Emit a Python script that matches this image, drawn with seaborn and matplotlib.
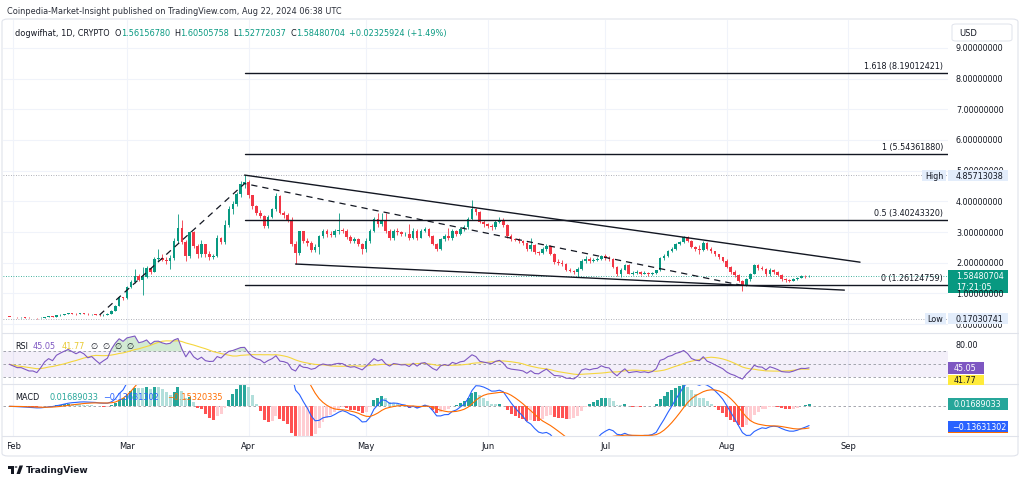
import numpy as np
import pandas as pd
import seaborn as sns
import matplotlib.pyplot as plt
import matplotlib.dates as mdates
import matplotlib.transforms as mtransforms
from matplotlib.patches import Rectangle, FancyBboxPatch, Polygon, Circle
from matplotlib.lines import Line2D

# ---- daily candles, Jan 31 -> Aug 22 2024 ----
first_open = 0.25
close_jan = [0.24]
close_feb = [0.23, 0.22, 0.22, 0.21, 0.20, 0.20, 0.19, 0.21, 0.24, 0.26,
             0.25, 0.29, 0.31, 0.33, 0.35, 0.34, 0.33, 0.35, 0.34, 0.32,
             0.33, 0.31, 0.29, 0.31, 0.33, 0.44, 0.60, 0.87, 0.84]
close_mar = [1.20, 1.36, 1.58, 1.44, 1.55, 1.82, 1.71, 2.12, 2.15, 2.10,
             2.07, 2.15, 2.72, 3.12, 2.67, 2.21, 2.99, 2.54, 2.29, 2.60,
             2.28, 2.20, 2.22, 2.80, 2.67, 3.23, 3.75, 3.92, 4.24, 4.57, 4.62]
close_apr = [4.20, 3.84, 3.62, 3.52, 3.20, 3.50, 3.74, 4.18, 3.62, 3.56,
             3.40, 2.62, 2.32, 3.02, 2.72, 2.66, 2.42, 2.52, 2.86, 3.03,
             2.93, 2.90, 3.02, 3.08, 3.05, 2.83, 2.72, 2.76, 2.62, 2.46]
close_may = [2.72, 3.05, 3.43, 3.25, 3.40, 3.02, 2.82, 3.05, 3.00, 2.93,
             2.95, 2.80, 3.05, 2.82, 3.05, 3.10, 2.88, 2.62, 2.45, 2.78,
             2.88, 2.80, 3.05, 2.95, 3.10, 3.15, 3.43, 3.75, 3.64, 3.32, 3.26]
close_jun = [3.20, 3.15, 3.32, 3.40, 3.22, 2.88, 2.78, 2.74, 2.70, 2.64,
             2.45, 2.58, 2.35, 2.32, 2.44, 2.55, 2.30, 2.02, 2.00, 1.95,
             1.76, 1.74, 1.69, 1.80, 2.06, 2.12, 2.05, 2.10, 2.12, 2.23]
close_jul = [2.15, 2.12, 1.85, 1.62, 1.78, 1.92, 1.65, 1.68, 1.70, 1.65,
             1.67, 1.62, 1.66, 1.76, 2.15, 2.22, 2.38, 2.45, 2.60, 2.68,
             2.83, 2.72, 2.52, 2.45, 2.42, 2.66, 2.46, 2.38, 2.28, 2.18, 2.06]
close_aug = [1.85, 1.70, 1.60, 1.42, 1.27, 1.47, 1.64, 1.92, 1.82, 1.80,
             1.62, 1.78, 1.70, 1.60, 1.46, 1.43, 1.42, 1.46, 1.52, 1.57,
             1.5616, 1.5848]

high_jan = [0.25]
high_feb = [0.24, 0.24, 0.23, 0.22, 0.22, 0.21, 0.21, 0.22, 0.25, 0.27,
            0.27, 0.30, 0.32, 0.34, 0.37, 0.36, 0.35, 0.36, 0.36, 0.35,
            0.34, 0.34, 0.32, 0.32, 0.35, 0.46, 0.63, 0.92, 0.90]
high_mar = [1.25, 1.45, 1.80, 1.62, 1.85, 1.90, 1.86, 2.20, 2.45, 2.30,
            2.20, 2.25, 2.80, 3.60, 3.40, 2.75, 3.05, 3.02, 2.60, 2.75,
            2.62, 2.40, 2.30, 2.90, 2.85, 3.40, 3.85, 4.00, 4.30, 4.65, 4.857]
high_apr = [4.70, 4.22, 3.88, 3.72, 3.55, 3.55, 3.80, 4.28, 4.20, 3.70,
            3.62, 3.48, 2.70, 3.05, 3.05, 2.80, 2.70, 2.60, 2.90, 3.10,
            3.10, 3.02, 3.10, 3.62, 3.12, 3.10, 2.90, 2.85, 2.80, 2.65]
high_may = [2.80, 3.10, 3.48, 3.62, 3.62, 3.62, 3.10, 3.10, 3.12, 3.02,
            3.00, 3.25, 3.12, 3.10, 3.10, 3.18, 3.12, 2.92, 2.65, 2.82,
            2.95, 3.12, 3.10, 3.08, 3.15, 3.22, 3.48, 4.05, 3.80, 3.68, 3.40]
high_jun = [3.30, 3.25, 3.40, 3.48, 3.45, 3.25, 2.95, 2.82, 2.80, 2.75,
            2.68, 2.80, 2.62, 2.40, 2.50, 2.62, 2.58, 2.32, 2.12, 2.10,
            2.00, 1.82, 1.78, 1.85, 2.12, 2.22, 2.18, 2.15, 2.20, 2.26]
high_jul = [2.30, 2.22, 2.15, 1.90, 1.82, 1.95, 1.95, 1.72, 1.75, 1.73,
            1.72, 1.70, 1.70, 1.78, 2.18, 2.30, 2.42, 2.50, 2.65, 2.72,
            2.88, 2.86, 2.75, 2.55, 2.58, 2.70, 2.68, 2.50, 2.40, 2.30, 2.20]
high_aug = [2.12, 1.90, 1.75, 1.65, 1.45, 1.52, 1.68, 1.95, 1.96, 1.88,
            1.84, 1.82, 1.80, 1.74, 1.62, 1.50, 1.48, 1.50, 1.55, 1.60,
            1.60, 1.6051]

low_jan = [0.23]
low_feb = [0.22, 0.21, 0.21, 0.20, 0.19, 0.19, 0.1703, 0.19, 0.21, 0.24,
           0.24, 0.25, 0.28, 0.30, 0.32, 0.32, 0.31, 0.32, 0.32, 0.31,
           0.31, 0.30, 0.28, 0.28, 0.30, 0.32, 0.43, 0.59, 0.78]
low_mar = [0.82, 1.18, 1.33, 1.40, 0.95, 1.50, 1.65, 1.70, 2.05, 2.05,
           1.95, 1.80, 2.10, 2.65, 2.62, 2.05, 2.15, 2.48, 2.15, 2.20,
           2.20, 2.10, 2.12, 2.20, 2.60, 2.62, 3.15, 3.60, 3.85, 4.15, 4.45]
low_apr = [4.10, 3.75, 3.55, 3.45, 3.12, 3.12, 3.45, 3.70, 3.58, 3.45,
           3.32, 2.55, 1.96, 2.25, 2.65, 2.55, 2.35, 2.35, 2.30, 2.80,
           2.85, 2.85, 2.85, 2.95, 2.98, 2.78, 2.65, 2.65, 2.55, 2.30]
low_may = [2.35, 2.65, 3.00, 3.18, 3.20, 2.98, 2.75, 2.75, 2.92, 2.88,
           2.88, 2.75, 2.78, 2.75, 2.80, 3.00, 2.85, 2.58, 2.40, 2.42,
           2.72, 2.75, 2.75, 2.88, 2.90, 3.05, 3.10, 3.38, 3.55, 3.28, 3.15]
low_jun = [3.12, 3.08, 3.10, 3.28, 3.18, 2.82, 2.72, 2.70, 2.65, 2.58,
           2.40, 2.40, 2.30, 2.25, 2.28, 2.40, 2.25, 1.95, 1.92, 1.90,
           1.72, 1.70, 1.65, 1.53, 1.76, 2.00, 2.00, 2.02, 2.05, 2.08]
low_jul = [2.08, 2.05, 1.82, 1.58, 1.53, 1.75, 1.62, 1.60, 1.64, 1.60,
           1.62, 1.58, 1.60, 1.64, 1.74, 2.10, 2.18, 2.35, 2.42, 2.58,
           2.65, 2.68, 2.48, 2.38, 2.28, 2.40, 2.42, 2.32, 2.22, 2.12, 2.02]
low_aug = [1.82, 1.65, 1.55, 1.38, 1.09, 1.25, 1.42, 1.62, 1.78, 1.76,
           1.58, 1.58, 1.65, 1.56, 1.42, 1.38, 1.39, 1.40, 1.44, 1.50,
           1.52, 1.5277]

# drawings
fib_leg_dates = ["2024-02-23", "2024-03-31", "2024-08-05"]
fib_leg_prices = [0.30, 4.58, 1.26124759]
fib_start = "2024-03-31"
fib_ratios = ["1.618", "1", "0.5", "0"]
fib_prices = [8.19012421, 5.54361880, 3.40243320, 1.26124759]
upper_dates = ["2024-03-31", "2024-09-04"]
upper_prices = [4.857, 2.02]
lower_dates = ["2024-04-13", "2024-08-31"]
lower_prices = [1.96, 1.11]

price_high = 4.85713038
price_low = 0.17030741
last_close = 1.58480704
countdown = "17:21:05"
rsi_last, rsi_ma_last = 45.05, 41.77
hist_last, macd_last, signal_last = 0.01689033, -0.13631302, -0.15320335
price_ticks = [0, 1, 2, 3, 4, 5, 6, 7, 8, 9]
month_starts = ["2024-02-01", "2024-03-01", "2024-04-01", "2024-05-01",
                "2024-06-01", "2024-07-01", "2024-08-01", "2024-09-01"]
month_labels = ["Feb", "Mar", "Apr", "May", "Jun", "Jul", "Aug", "Sep"]

close = np.array(close_jan + close_feb + close_mar + close_apr + close_may + close_jun + close_jul + close_aug)
high = np.array(high_jan + high_feb + high_mar + high_apr + high_may + high_jun + high_jul + high_aug)
low = np.array(low_jan + low_feb + low_mar + low_apr + low_may + low_jun + low_jul + low_aug)
dates = pd.date_range("2024-01-31", periods=len(close), freq="D")
opn = np.concatenate([[first_open], close[:-1]])
high = np.maximum(high, np.maximum(opn, close))
low = np.minimum(low, np.minimum(opn, close))

# ---- indicators ----
delta = np.diff(close, prepend=close[0])
gain, loss = np.clip(delta, 0, None), np.clip(-delta, 0, None)
ag = al = np.abs(delta[1:15]).mean() / 2
rsi = []
for g, l in zip(gain, loss):
    ag = (ag * 13 + g) / 14
    al = (al * 13 + l) / 14
    rsi.append(100 - 100 / (1 + ag / al))
rsi = pd.Series(rsi, index=dates)
rsi_ma = rsi.rolling(14, min_periods=1).mean()

s = pd.Series(close, index=dates)
macd = s.ewm(span=12, adjust=False).mean() - s.ewm(span=26, adjust=False).mean()
signal = macd.ewm(span=9, adjust=False).mean()
hist = macd - signal
prev = hist.shift(1).fillna(0)
hist_col = np.where(hist >= 0, np.where(hist >= prev, "#26A69A", "#B2DFDB"),
                    np.where(hist < prev, "#FF5252", "#FFCDD2"))

# ---- figure ----
sns.set_theme(style="white")
plt.rcParams["font.family"] = ["DejaVu Sans"]
W, H = 1024, 485
fig = plt.figure(figsize=(W / 100, H / 100), dpi=100, facecolor="white")
DARK = "#131722"
UP, DOWN = "#089981", "#F23645"
GRID = "#f0f3fa"


def fx(px):
    return px / W


def fy(py):
    return 1 - py / H


def ypx(ax, v):
    return H - ax.transData.transform((0, v))[1]


def box(x0, y0, x1, y1, color, z=6):
    fig.add_artist(Rectangle((fx(x0), fy(y1)), (x1 - x0) / W, (y1 - y0) / H,
                             transform=fig.transFigure, facecolor=color,
                             edgecolor="none", zorder=z))


def label(x, y, txt, color=DARK, size=5.8, ha="left", weight="normal", z=7):
    return fig.text(fx(x), fy(y), txt, color=color, fontsize=size, ha=ha,
                    va="center", weight=weight, zorder=z)


def seq(x, y, parts, size=5.9):
    r = fig.canvas.get_renderer()
    for txt, col, gap in parts:
        t = label(x, y, txt, col, size)
        x += t.get_window_extent(r).width + gap


def clip_rows(t, top_px, bottom_px):
    # keep only the rows of a text between two heights (px from top)
    t.set_clip_box(mtransforms.Bbox.from_extents(0, H - bottom_px, W, H - top_px))
    t.set_clip_on(True)


x_left, x_right = 3, 948
mar1 = mdates.date2num(pd.Timestamp("2024-03-01"))
xlim = (mar1 - (127 - x_left) / 3.92, mar1 + (x_right - 127) / 3.92)

ax_p = fig.add_axes([fx(x_left), (H - 334) / H, (x_right - x_left) / W, 313 / H])
ax_r = fig.add_axes([fx(x_left), (H - 385) / H, (x_right - x_left) / W, 51 / H])
ax_m = fig.add_axes([fx(x_left), (H - 437) / H, (x_right - x_left) / W, 52 / H])

months = pd.to_datetime(month_starts)
for ax in (ax_p, ax_r, ax_m):
    ax.set_facecolor("none")
    for sp in ax.spines.values():
        sp.set_visible(False)
    for m in months:
        ax.axvline(m, color=GRID, lw=0.8, zorder=0)

# price pane
for v in price_ticks:
    ax_p.axhline(v, color=GRID, lw=0.8, zorder=0)
col = np.where(close >= opn, UP, DOWN)
ax_p.vlines(dates, low, high, colors=col, lw=0.6, zorder=3)
ax_p.bar(dates, np.maximum(np.abs(close - opn), 0.012), bottom=np.minimum(opn, close),
         width=0.68, color=col, linewidth=0, zorder=4)

ax_p.axhline(price_high, color="#9598a1", lw=0.6, ls=(0, (1, 2)), zorder=2)
ax_p.axhline(price_low, color="#9598a1", lw=0.6, ls=(0, (1, 2)), zorder=2)
ax_p.axhline(last_close, color=UP, lw=0.6, ls=(0, (1, 2)), zorder=2)

end = mdates.num2date(xlim[1]).replace(tzinfo=None)
for p in fib_prices:
    ax_p.plot([pd.Timestamp(fib_start), end], [p, p], color=DARK, lw=1.0, zorder=5)
ax_p.plot(pd.to_datetime(fib_leg_dates), fib_leg_prices, color=DARK, lw=0.9,
          dashes=(5, 4), zorder=5)
ax_p.plot(pd.to_datetime(upper_dates), upper_prices, color=DARK, lw=1.0, zorder=5)
ax_p.plot(pd.to_datetime(lower_dates), lower_prices, color=DARK, lw=1.0, zorder=5)
ax_p.set_xlim(xlim)
ax_p.set_ylim(-0.287, 9.909)
ax_p.set_xticks([]); ax_p.set_yticks([])

# RSI pane
ax_r.axhspan(30, 70, color="#7E57C2", alpha=0.09, lw=0, zorder=0)
for v in (70, 50, 30):
    ax_r.axhline(v, color="#9598a1", lw=0.6, dashes=(3, 3), zorder=1)
ax_r.fill_between(dates, rsi.values, 70, where=rsi.values > 70, interpolate=True,
                  color="#4caf50", alpha=0.25, lw=0, zorder=2)
sns.lineplot(x=dates, y=rsi_ma.values, ax=ax_r, color="#F5D63D", lw=0.8, zorder=3)
sns.lineplot(x=dates, y=rsi.values, ax=ax_r, color="#7E57C2", lw=0.8, zorder=4)
ax_r.set_xlim(xlim)
ax_r.set_ylim(19.7, 98.15)
ax_r.set_xticks([]); ax_r.set_yticks([])
ax_r.set_xlabel(""); ax_r.set_ylabel("")

# MACD pane
ax_m.axhline(0, color="#9598a1", lw=0.6, dashes=(3, 3), zorder=1)
ax_m.bar(dates, hist.values, width=0.75, color=hist_col, linewidth=0, zorder=2)
sns.lineplot(x=dates, y=macd.values, ax=ax_m, color="#2962FF", lw=0.8, zorder=3)
sns.lineplot(x=dates, y=signal.values, ax=ax_m, color="#FF6D00", lw=0.8, zorder=3)
ax_m.set_xlim(xlim)
ax_m.set_ylim(-0.198, 0.149)
ax_m.set_yticks([])
ax_m.set_xlabel(""); ax_m.set_ylabel("")
ax_m.set_xticks([])
tr = mtransforms.blended_transform_factory(ax_m.transData, ax_m.transAxes)
for m, lab in zip(months, month_labels):
    t = ax_m.text(m, -0.19, lab, transform=tr, ha="center", va="center",
                  fontsize=6, color=DARK, clip_on=False)
    t.set_clip_box(mtransforms.Bbox.from_extents(8, 0, W, H))
    t.set_clip_on(True)

# frame and separators
fig.add_artist(FancyBboxPatch((fx(2), fy(457)), fx(1016), (457 - 20) / H,
                              boxstyle="round,pad=0,rounding_size=0.006",
                              transform=fig.transFigure, fill=False,
                              edgecolor="#e0e3eb", lw=0.8))
for yy in (334, 385, 437):
    fig.add_artist(Line2D([fx(2), fx(1018)], [fy(yy), fy(yy)], color="#e0e3eb",
                          lw=0.8, transform=fig.transFigure))

# price scale
LB = "#e3edfb"
yh = ypx(ax_p, price_high)
yl = ypx(ax_p, price_low)
for v in price_ticks:
    yv = ypx(ax_p, v)
    t = label(956, yv, f"{v:.8f}")
    if abs(yv - yh) < 6:
        clip_rows(t, 0, yh - 5.5)      # mostly hidden behind the High tag
    if abs(yv - yl) < 6:
        clip_rows(t, yl + 5.5, H)      # mostly hidden behind the Low tag
for ratio, p in zip(fib_ratios, fib_prices):
    label(943, ypx(ax_p, p) - 7.5, f"{ratio} ({p:.8f})", ha="right")

box(922, yh - 5.5, 946, yh + 5.5, LB)
label(934, yh, "High", ha="center")
box(948, yh - 5.5, 1008, yh + 5.5, LB)
label(956, yh, f"{price_high:.8f}")
box(925, yl - 5.5, 946, yl + 5.5, LB)
label(935.5, yl, "Low", ha="center")
box(948, yl - 5.5, 1008, yl + 5.5, LB)
label(956, yl, f"{price_low:.8f}")
yc = ypx(ax_p, last_close)
box(948, yc - 6, 1008, yc + 17, UP)
label(956, yc, f"{last_close:.8f}", color="white")
label(956, yc + 10.5, countdown, color="white")

fig.add_artist(FancyBboxPatch((fx(952), fy(42)), 60 / W, 17 / H,
                              boxstyle="round,pad=0,rounding_size=0.004",
                              transform=fig.transFigure, facecolor="white",
                              edgecolor="#e0e3eb", lw=0.7, zorder=6))
label(959, 33.5, "USD", size=6)

# RSI scale
label(956, ypx(ax_r, 80), "80.00")
yr = ypx(ax_r, rsi_last)
box(948, yr - 6, 984, yr + 6, "#7E57C2")
label(954, yr, f"{rsi_last:.2f}", color="white")
box(948, yr + 7, 984, yr + 17, "#FFEB3B")
label(954, yr + 12, f"{rsi_ma_last:.2f}")

# MACD scale
yhm = ypx(ax_m, hist_last)
box(948, yhm - 6, 1008, yhm + 6, "#26A69A")
label(954, yhm, f"{hist_last:.8f}", color="white")
ymm = ypx(ax_m, macd_last)
box(948, ymm - 6, 1008, ymm + 6, "#2962FF")
box(948, ymm + 5, 1008, ymm + 6.5, "#FF6D00")
label(952, ymm, f"\u2212{abs(macd_last):.8f}", color="white")

# legends
label(7, 12, "Coinpedia-Market-Insight published on TradingView.com, Aug 22, 2024 06:38 UTC",
      color="#2a2e39", size=5.9)
G = "#089981"
seq(15, 33.5, [("dogwifhat, 1D, CRYPTO", DARK, 5), ("O", DARK, 0), ("1.56156780", G, 4),
               ("H", DARK, 0), ("1.60505758", G, 4), ("L", DARK, 0), ("1.52772037", G, 4),
               ("C", DARK, 0), ("1.58480704", G, 4), ("+0.02325924 (+1.49%)", G, 0)])
seq(15, 346.5, [("RSI", DARK, 5), (f"{rsi_last:.2f}", "#7E57C2", 5),
                (f"{rsi_ma_last:.2f}", "#E8C930", 6), ("\u2205", DARK, 5),
                ("\u2205", DARK, 5), ("\u2205", DARK, 5), ("\u2205", DARK, 0)])
seq(15, 397.5, [("MACD", DARK, 10), (f"{hist_last:.8f}", "#26A69A", 5),
                (f"\u2212{abs(macd_last):.8f}", "#2962FF", 8),
                (f"\u2212{abs(signal_last):.8f}", "#FF6D00", 0)])

# TradingView logo
fig.add_artist(Rectangle((fx(8), fy(469.5)), 6 / W, 3 / H, transform=fig.transFigure,
                         facecolor=DARK, edgecolor="none"))
fig.add_artist(Rectangle((fx(11), fy(475)), 3 / W, 6 / H, transform=fig.transFigure,
                         facecolor=DARK, edgecolor="none"))
fig.add_artist(Polygon([(fx(16.5), fy(475)), (fx(19.5), fy(466.5)), (fx(23), fy(466.5)),
                        (fx(20), fy(475))], closed=True, transform=fig.transFigure,
                       facecolor=DARK, edgecolor="none"))
fig.add_artist(Circle((fx(16), fy(468)), 1.4 / W, transform=fig.transFigure,
                      facecolor=DARK, edgecolor="none"))
label(26, 471, "TradingView", size=6.5, weight="bold")

fig.savefig("out.png", dpi=100, facecolor="white")
